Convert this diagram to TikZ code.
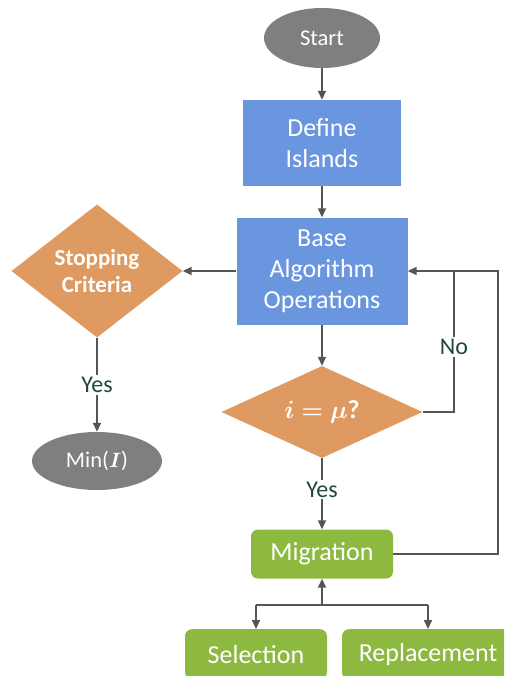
\documentclass[tikz,border=0pt]{standalone}
\usepackage{fontspec}
\setmainfont{Carlito}
\usepackage{amsmath}
\usepackage{bm}
\usetikzlibrary{shapes.geometric,arrows.meta}
\definecolor{bluebox}{HTML}{6A96E0}
\definecolor{orangebox}{HTML}{DE9A61}
\definecolor{greenbox}{HTML}{8DB941}
\definecolor{graybox}{HTML}{7F7F7F}
\definecolor{linecol}{HTML}{555555}
\definecolor{labelcol}{HTML}{1F4A38}
\tikzset{
  procbox/.style={rectangle, fill=bluebox, text=white, align=center, inner sep=0pt, font=\fontsize{26}{31}\selectfont},
  decbox/.style={diamond, fill=orangebox, text=white, align=center, inner sep=0pt},
  greenrect/.style={rectangle, rounded corners=7pt, fill=greenbox, text=white, inner sep=0pt, font=\fontsize{26}{30}\selectfont},
  termnode/.style={ellipse, fill=graybox, text=white, inner sep=0pt, font=\fontsize{22.5}{26}\selectfont},
  conn/.style={draw=linecol, line width=1.6pt, -{Triangle[length=9pt,width=8pt]}},
  plainconn/.style={draw=linecol, line width=1.6pt},
  lbl/.style={fill=white, text=labelcol, inner sep=2pt, font=\fontsize{24}{28}\selectfont}
}
\begin{document}
\begin{tikzpicture}[x=1pt,y=-1pt]
\clip (0,0) rectangle (504,676);
\useasboundingbox (0,0) rectangle (504,676);
\node[termnode, minimum width=116pt, minimum height=60pt] (start) at (322,38) {Start};
\node[procbox, minimum width=158pt, minimum height=86pt] (define) at (322,143) {Define\\Islands};
\node[procbox, minimum width=171pt, minimum height=107pt] (base) at (322,271) {Base\\Algorithm\\Operations};
\node[decbox, minimum width=171pt, minimum height=133pt, font=\bfseries\fontsize{23}{27}\selectfont] (stop) at (97,271) {Stopping\\Criteria};
\node[termnode, minimum width=130pt, minimum height=58pt] (min) at (97,461) {Min($\bm{I}$)};
\node[decbox, aspect=2.2, minimum width=201pt, minimum height=92pt, font=\fontsize{26}{30}\selectfont] (dec) at (322,412) {$\bm{i=\mu}$\textbf{?}};
\node[greenrect, minimum width=142pt, minimum height=49pt] (mig) at (322,554) {Migration};
\node[greenrect, minimum width=142pt, minimum height=50pt, anchor=north] (sel) at (256,629) {Selection};
\node[greenrect, minimum width=172pt, minimum height=50pt, anchor=north] (rep) at (428,629) {Replacement};
\coordinate (noX) at (454,412);
\coordinate (noTop) at (454,271);
\coordinate (outR) at (498,554);
\coordinate (outTop) at (498,271);
\coordinate (junc) at (322,605);
\coordinate (jl) at (256,605);
\coordinate (jr) at (428,605);
% connectors
\draw[conn] (start) -- (define);
\draw[conn] (define) -- (base);
\draw[conn] (base.west) -- (stop.east);
\draw[conn] (stop.south) -- node[lbl] {Yes} (min.north);
\draw[conn] (base.south) -- (dec.north);
\draw[conn] (dec.south) -- node[lbl, pos=0.44] {Yes} (mig.north);
\draw[plainconn] (dec.east) -- (noX) -- node[lbl, pos=0.46] {No} (noTop);
\draw[conn] (mig.east) -- (outR) -- (outTop) -- (base.east);
\draw[conn] (junc) -- (mig.south);
\draw[conn] (jl) -- (sel.north);
\draw[conn] (jr) -- (rep.north);
\draw[plainconn] (jl) -- (jr);
\end{tikzpicture}
\end{document}
